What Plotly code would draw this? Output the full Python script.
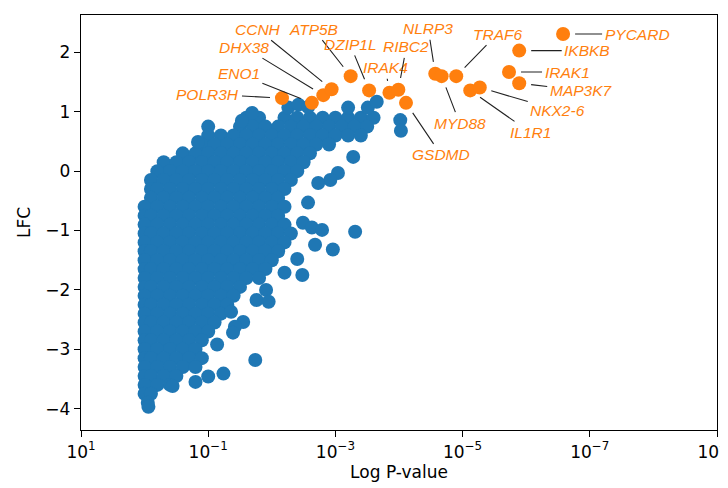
import plotly.graph_objects as go

# ---------------- data ----------------
# highlighted genes: log10(p-value) and LFC
genes = ["POLR3H", "ENO1", "DHX38", "CCNH", "ATP5B", "DZIP1L", "IRAK4", "RIBC2",
         "GSDMD", "NLRP3", "MYD88", "TRAF6", "IL1R1", "NKX2-6", "IRAK1", "MAP3K7",
         "IKBKB", "PYCARD"]
gene_log10p = [-2.16, -2.63, -2.81, -2.94, -3.24, -3.53, -3.85, -3.99,
               -4.11, -4.57, -4.67, -4.90, -5.12, -5.27, -5.73, -5.89,
               -5.89, -6.58]
gene_lfc = [1.23, 1.15, 1.28, 1.38, 1.60, 1.36, 1.32, 1.37,
            1.15, 1.64, 1.60, 1.60, 1.36, 1.41, 1.67, 1.48,
            2.03, 2.31]

# label offsets (pixels, label centre relative to the point)
label_dx = [-74, -73, -79, -74, -37, -19, -4, 8, 35, -7, 18, 41, 60, 78, 58, 62, 68, 74]
label_dy = [-4, -29, -48, -60, -47, -46, -25, -43, 52, -45, 47, -42, 42, 23, 0, 7, 0, 0]

# dense cloud of all other genes, read row by row (LFC level -> log10 p values)
cloud_row_lfc = [0.90, 0.75, 0.60, 0.45, 0.30, 0.15, 0.00, -0.15, -0.30, -0.45,
                 -0.60, -0.75, -0.90, -1.05, -1.20, -1.35, -1.50, -1.65, -1.80, -1.95,
                 -2.10, -2.25, -2.40, -2.55, -2.70, -2.85, -3.00, -3.15, -3.30, -3.45,
                 -3.60, -3.75, -3.90]
cloud_row_log10p = [
    [-1.6, -1.8, -2.2, -2.4, -2.6, -2.8, -3.0, -3.2, -3.4, -3.6],
    [-1.0, -1.5, -1.7, -1.9, -2.1, -2.3, -2.5, -2.7, -2.9, -3.1, -3.3, -3.5],
    [-1.0, -1.2, -1.4, -1.6, -1.8, -2.0, -2.2, -2.4, -2.6, -2.8, -3.0, -3.2, -3.4],
    [-0.9, -1.1, -1.3, -1.5, -1.7, -1.9, -2.1, -2.3, -2.5, -2.7, -2.9],
    [-0.6, -0.8, -1.0, -1.2, -1.4, -1.6, -1.8, -2.0, -2.2, -2.4, -2.6],
    [-0.3, -0.5, -0.7, -0.9, -1.1, -1.3, -1.5, -1.7, -1.9, -2.1, -2.3, -2.5],
    [-0.2, -0.4, -0.6, -0.8, -1.0, -1.2, -1.4, -1.6, -1.8, -2.0, -2.2, -2.4],
    [-0.1, -0.3, -0.5, -0.7, -0.9, -1.1, -1.3, -1.5, -1.7, -1.9, -2.1, -2.3],
    [-0.1, -0.2, -0.4, -0.6, -0.8, -1.0, -1.2, -1.4, -1.6, -1.8, -2.0, -2.2],
    [-0.1, -0.3, -0.5, -0.7, -0.9, -1.1, -1.3, -1.5, -1.7, -1.9, -2.1],
    [0.0, -0.2, -0.4, -0.6, -0.8, -1.0, -1.2, -1.4, -1.6, -1.8, -2.0, -2.2],
    [0.0, -0.1, -0.3, -0.5, -0.7, -0.9, -1.1, -1.3, -1.5, -1.7, -1.9, -2.1],
    [0.0, -0.2, -0.4, -0.6, -0.8, -1.0, -1.2, -1.4, -1.6, -1.8, -2.0, -2.2],
    [0.0, -0.1, -0.3, -0.5, -0.7, -0.9, -1.1, -1.3, -1.5, -1.7, -1.9, -2.1, -2.3],
    [0.0, -0.2, -0.4, -0.6, -0.8, -1.0, -1.2, -1.4, -1.6, -1.8, -2.0, -2.2],
    [0.0, -0.1, -0.3, -0.5, -0.7, -0.9, -1.1, -1.3, -1.5, -1.7, -1.9, -2.1],
    [0.0, -0.2, -0.4, -0.6, -0.8, -1.0, -1.2, -1.4, -1.6, -1.8, -2.0],
    [0.0, -0.1, -0.3, -0.5, -0.7, -0.9, -1.1, -1.3, -1.5, -1.7, -1.9],
    [0.0, -0.2, -0.4, -0.6, -0.8, -1.0, -1.2, -1.4, -1.6, -1.8],
    [0.0, -0.1, -0.3, -0.5, -0.7, -0.9, -1.1, -1.3, -1.5],
    [0.0, -0.2, -0.4, -0.6, -0.8, -1.0, -1.2, -1.4],
    [0.0, -0.1, -0.3, -0.5, -0.7, -0.9, -1.1, -1.3],
    [0.0, -0.2, -0.4, -0.6, -0.8, -1.0, -1.2],
    [0.0, -0.1, -0.3, -0.5, -0.7, -0.9, -1.1],
    [0.0, -0.2, -0.4, -0.6, -0.8, -1.0],
    [0.0, -0.1, -0.3, -0.5, -0.7, -0.9],
    [0.0, -0.2, -0.4, -0.6, -0.8],
    [0.0, -0.1, -0.3, -0.5, -0.7, -0.9],
    [0.0, -0.2, -0.4, -0.6, -0.8],
    [0.0, -0.1, -0.3, -0.5],
    [0.0, -0.2, -0.4],
    [0.0, -0.1],
    [-0.05],
]

# scattered genes on the edge of the cloud
edge_log10p = [-1.69, -1.53, -0.84, -2.26, -2.42, -2.57, -3.20, -3.51, -3.65, -4.02,
               -4.03, -3.28, -3.04, -2.92, -2.73, -2.57, -2.49, -2.63, -2.79, -3.31,
               -2.96, -2.68, -2.40, -2.20, -2.48, -1.91, -1.76, -1.95, -1.36, -1.55,
               -1.42, -1.39, -1.14, -1.74, -1.24, -1.00, -0.80, -0.44, -0.06]
edge_lfc = [0.98, 0.85, 0.49, 1.07, 1.12, 1.08, 1.07, 1.07, 1.17, 0.86,
            0.68, 0.24, -0.03, -0.15, -0.20, -0.53, -0.87, -0.95, -0.99, -1.02,
            -1.32, -1.24, -1.48, -1.71, -1.75, -2.00, -2.17, -2.20, -2.37, -2.54,
            -2.62, -2.72, -2.92, -3.18, -3.41, -3.46, -3.55, -3.62, -3.97]

x_tick_exponents = [1, -1, -3, -5, -7, -9]
y_tick_vals = [-4, -3, -2, -1, 0, 1, 2]
y_tick_text = ["\u22124", "\u22123", "\u22122", "\u22121", "0", "1", "2"]

# ---------------- build figure ----------------
cloud_p, cloud_lfc = [], []
for lfc, row in zip(cloud_row_lfc, cloud_row_log10p):
    for lp in row:
        cloud_p.append(10 ** lp)
        cloud_lfc.append(lfc)
for lp, lfc in zip(edge_log10p, edge_lfc):
    cloud_p.append(10 ** lp)
    cloud_lfc.append(lfc)

gene_p = [10 ** lp for lp in gene_log10p]

x_tick_vals = [10.0 ** e for e in x_tick_exponents]
x_tick_text = ["10<sup>%s</sup>" % (str(e).replace("-", "\u2212")) for e in x_tick_exponents]

BLUE = "#1f77b4"
ORANGE = "#ff7f0e"

fig = go.Figure()
fig.add_trace(go.Scatter(x=cloud_p, y=cloud_lfc, mode="markers",
                         marker=dict(color=BLUE, size=14, line=dict(width=0)),
                         hoverinfo="skip", showlegend=False))
fig.add_trace(go.Scatter(x=gene_p, y=gene_lfc, mode="markers", text=genes,
                         marker=dict(color=ORANGE, size=14, line=dict(width=0)),
                         showlegend=False))

# annotations on a log axis are positioned in log10 units
for g, lp, l, dx, dy in zip(genes, gene_log10p, gene_lfc, label_dx, label_dy):
    fig.add_annotation(x=lp, y=l, xref="x", yref="y", text=g, showarrow=True,
                       ax=dx, ay=dy, arrowhead=0, arrowwidth=1.1, arrowcolor="#222222",
                       standoff=12, borderpad=2,
                       font=dict(family="Liberation Sans, Arial, sans-serif", size=15.5,
                                 color=ORANGE, style="italic"))

axis_font = dict(family="DejaVu Sans, sans-serif", size=17, color="black")

# the page body adds an 8 px offset, so the figure is 720x480 placed at (8, 8)
fig.update_layout(
    width=720, height=480,
    margin=dict(l=73, r=11, t=7, b=58),
    paper_bgcolor="white", plot_bgcolor="white",
    font=axis_font,
    xaxis=dict(type="log", range=[1, -9], tickvals=x_tick_vals, ticktext=x_tick_text,
               showline=True, linecolor="black", linewidth=1.4, mirror=True,
               ticks="outside", ticklen=6, tickwidth=1.2, tickcolor="black",
               showgrid=False, zeroline=False, tickfont=axis_font, automargin=False,
               ticklabeloverflow="allow",
               title=dict(text="Log P-value", font=axis_font, standoff=4)),
    yaxis=dict(range=[-4.36, 2.63], tickvals=y_tick_vals, ticktext=y_tick_text,
               showline=True, linecolor="black", linewidth=1.4, mirror=True,
               ticks="outside", ticklen=6, tickwidth=1.2, tickcolor="black",
               showgrid=False, zeroline=False, tickfont=axis_font, automargin=False,
               title=dict(text="LFC", font=axis_font, standoff=10)),
)

fig.write_html("out.html")
